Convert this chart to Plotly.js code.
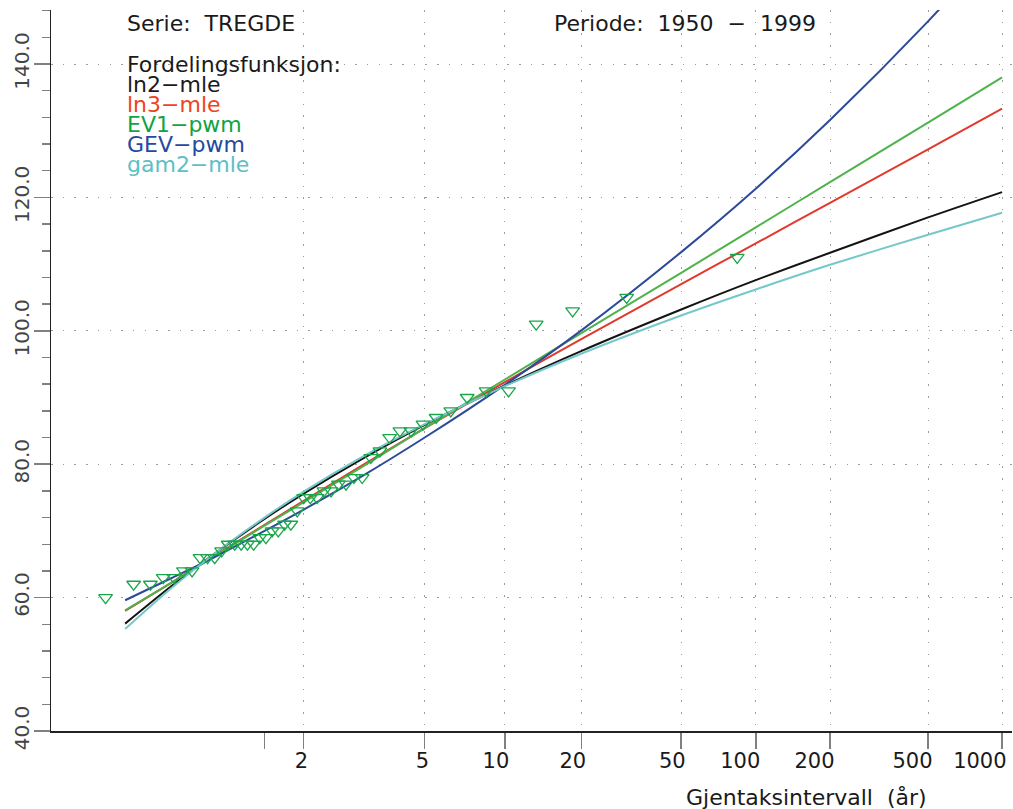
<!DOCTYPE html>
<html><head><meta charset="utf-8">
<script src="https://cdn.plot.ly/plotly-3.0.1.min.js"></script>
<style>html,body{margin:0;padding:0;background:#fff}#chart{width:1013px;height:809px}</style>
</head><body><div id="chart"></div>
<script>
// ---- data ----
const curveReturnPeriods = [1.0256, 1.1, 1.25, 1.582, 2, 3, 5, 10, 20, 50, 100, 200, 500, 1000];
const ln2Mle  = [56.1, 61.7, 66.5, 71.8, 75.6, 80.7, 85.9, 91.8, 97.0, 103.2, 107.6, 111.7, 117.0, 120.8];
const ln3Mle  = [58.0, 62.2, 66.2, 70.9, 74.5, 79.7, 85.4, 92.3, 98.8, 107.0, 113.1, 119.2, 127.2, 133.3];
const ev1Pwm  = [58.1, 62.2, 66.1, 70.8, 74.3, 79.5, 85.4, 92.7, 99.7, 108.7, 115.5, 122.3, 131.2, 138.0];
const gevPwm  = [59.6, 62.9, 66.0, 70.0, 73.2, 78.1, 84.0, 91.9, 100.1, 111.8, 121.3, 131.6, 146.4, 158.6];
const gam2Mle = [55.3, 61.4, 66.5, 72.0, 75.9, 81.0, 86.0, 91.7, 96.6, 102.3, 106.2, 109.9, 114.4, 117.7];

// observed annual maxima, sorted ascending (1950-1999)
const observed = [60, 62, 62, 63, 63, 64, 64, 66, 66, 66, 67, 68, 68, 68, 68, 68, 69, 69, 70, 70,
                  71, 71, 73, 75, 75, 75, 76, 76, 77, 77, 78, 78, 81, 82, 84, 85, 85, 86, 87, 88,
                  90, 91, 91, 101, 103, 105, 111];

const tickReturnPeriods = [2, 5, 10, 20, 50, 100, 200, 500, 1000];
const tickLabels = ['2', '5', '10', '20', '50', '100', '200', '500', '1000'];
const unlabeledTickReturnPeriods = [1.582];

const seriesNames  = ['ln2\u2212mle', 'ln3\u2212mle', 'EV1\u2212pwm', 'GEV\u2212pwm', 'gam2\u2212mle'];
const seriesValues = [ln2Mle, ln3Mle, ev1Pwm, gevPwm, gam2Mle];
const lineColors   = ['#141414', '#e2392d', '#4db34a', '#2c4a9a', '#75c8c9'];
const textColors   = ['#1a1a1a', '#ee4420', '#12a344', '#234a9c', '#5cc0c4'];

// ---- Gumbel probability scale ----
const gumbel = T => -Math.log(-Math.log(1 - 1 / T));
const n = observed.length;
const gringortenT = idxAsc => { const rank = n - idxAsc; return (n + 0.12) / (rank - 0.44); };

const traces = seriesValues.map((vals, i) => ({
  type: 'scatter', mode: 'lines', name: seriesNames[i],
  x: curveReturnPeriods.map(gumbel), y: vals,
  line: {color: lineColors[i], width: 2, shape: 'spline', smoothing: 0.8},
  hoverinfo: 'skip'
}));
traces.push({
  type: 'scatter', mode: 'markers', name: 'observert',
  x: observed.map((v, i) => gumbel(gringortenT(i))), y: observed,
  marker: {symbol: 'triangle-down-open', size: 12, color: '#19a64b', line: {width: 1.3, color: '#19a64b'}},
  hoverinfo: 'skip'
});

const FONT = 'DejaVu Sans, sans-serif';
const L = 51, R = 1012, T0 = 10, B = 731;
const px = x => (x - L) / (R - L);
const py = y => (B - y) / (B - T0);

const annotations = [];
const addText = (text, x, y, color, anchor) => annotations.push({
  text: text, xref: 'paper', yref: 'paper', x: px(x), y: py(y),
  xanchor: anchor || 'left', yanchor: 'middle', showarrow: false,
  font: {family: FONT, size: 22, color: color || '#1a1a1a'}
});
addText('Serie:\u00a0\u00a0TREGDE', 125, 24);
addText('Periode:\u00a0\u00a01950\u00a0\u00a0\u2212\u00a0\u00a01999', 552, 24);
addText('Fordelingsfunksjon:', 125, 65);
[85, 104, 124, 144, 164].forEach((y, i) => addText(seriesNames[i], 125, y, textColors[i]));
addText('Gjentaksintervall\u00a0\u00a0(år)', 806, 797, '#1a1a1a', 'center');

const gridStyle = {showgrid: true, gridcolor: '#9c9c9c', gridwidth: 1, griddash: '1.5px,10.2px'};
const layout = {
  width: 1013, height: 809,
  margin: {l: L, r: 1013 - R, t: T0, b: 809 - B, pad: 0},
  paper_bgcolor: '#fff', plot_bgcolor: '#fff', showlegend: false,
  font: {family: FONT, color: '#1a1a1a'},
  xaxis: Object.assign({
    range: [-2, 7], tickmode: 'array',
    tickvals: tickReturnPeriods.map(gumbel), ticktext: tickLabels,
    ticks: 'outside', ticklen: 16, tickwidth: 1.5, tickcolor: '#808080',
    ticklabelposition: 'outside left', ticklabelshift: 6, ticklabelstandoff: 10,
    ticklabeloverflow: 'allow',
    showline: true, linecolor: '#222', linewidth: 1.5, zeroline: false,
    tickfont: {family: FONT, size: 21, color: '#1a1a1a'},
    minor: {tickmode: 'array', tickvals: unlabeledTickReturnPeriods.map(gumbel), ticks: 'outside',
            ticklen: 16, tickwidth: 1.5, tickcolor: '#808080', showgrid: false},
    fixedrange: true
  }, gridStyle),
  yaxis: Object.assign({
    range: [40, 148.1], tickmode: 'linear', tick0: 40, dtick: 20, tickformat: '.1f',
    ticks: 'outside', ticklen: 16, tickwidth: 1.5, tickcolor: '#808080',
    ticklabelstandoff: -3,
    showline: true, linecolor: '#222', linewidth: 1.5, zeroline: false,
    tickangle: -90, tickfont: {family: FONT, size: 20, color: '#444'},
    minor: {tickmode: 'linear', tick0: 40, dtick: 4, ticks: 'outside', ticklen: 8, tickwidth: 1.5,
            tickcolor: '#808080', showgrid: false},
    fixedrange: true
  }, gridStyle),
  annotations: annotations
};
Plotly.newPlot('chart', traces, layout, {staticPlot: true, displayModeBar: false});
</script></body></html>
